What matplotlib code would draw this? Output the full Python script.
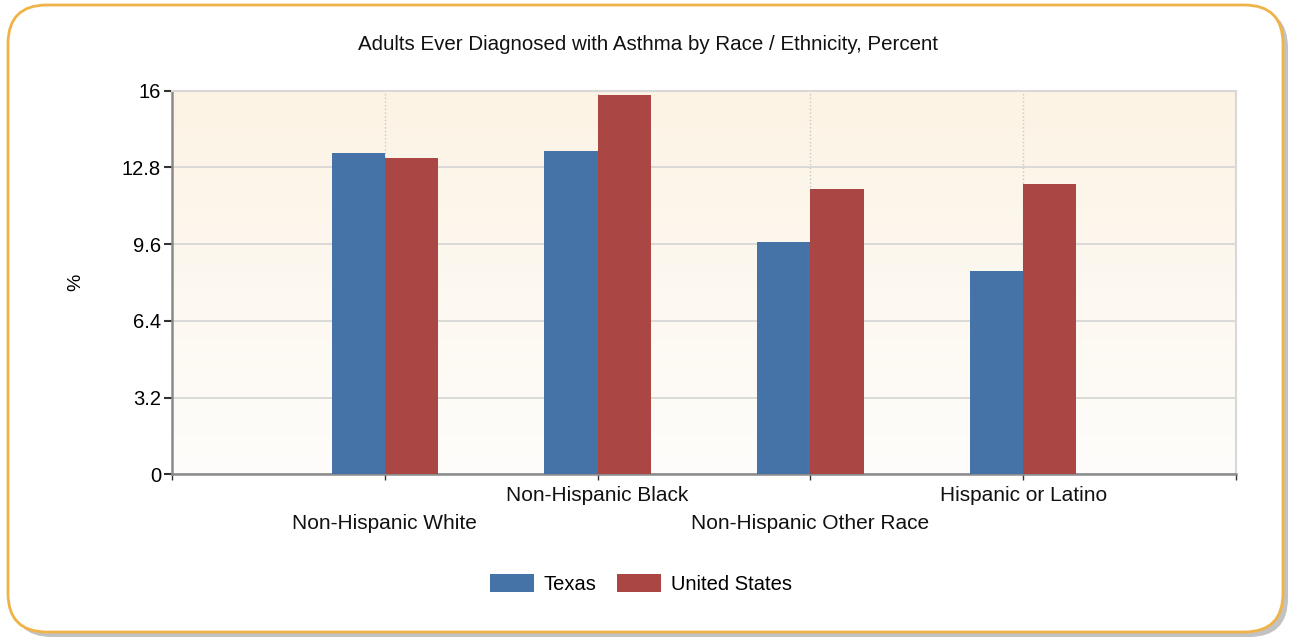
import matplotlib
import numpy as np

matplotlib.use("Agg")
import matplotlib.pyplot as plt
from matplotlib.patches import FancyBboxPatch
from matplotlib.colors import LinearSegmentedColormap

plt.rcParams["font.family"] = ["Liberation Sans", "DejaVu Sans"]

# data
categories = ["Non-Hispanic White", "Non-Hispanic Black",
              "Non-Hispanic Other Race", "Hispanic or Latino"]
texas = [13.4, 13.5, 9.7, 8.5]
united_states = [13.2, 15.8, 11.9, 12.1]
y_ticks = [0, 3.2, 6.4, 9.6, 12.8, 16]

BLUE = "#4572a7"
RED = "#aa4643"
W, H = 1294, 638

fig = plt.figure(figsize=(W / 100, H / 100), dpi=100)

# rounded frame with shadow
shadow = FancyBboxPatch((13 / W, 1 - 637 / H), 1275 / W, 628 / H,
                        boxstyle="round,pad=0,rounding_size=0.03",
                        transform=fig.transFigure, facecolor="#a8a8a8",
                        edgecolor="none", alpha=0.7, zorder=0,
                        mutation_aspect=W / H)
fig.patches.append(shadow)
frame = FancyBboxPatch((8 / W, 1 - 632 / H), 1275 / W, 627 / H,
                       boxstyle="round,pad=0,rounding_size=0.03",
                       transform=fig.transFigure, facecolor="white",
                       edgecolor="#efb347", linewidth=2, zorder=1,
                       mutation_aspect=W / H)
fig.patches.append(frame)

ax = fig.add_axes([172 / W, 1 - 474.3 / H, (1236 - 172) / W, (474.3 - 90.7) / H])
ax.set_zorder(2)
ax.patch.set_alpha(0)

# soft cream gradient behind the plot
cmap = LinearSegmentedColormap.from_list("bg", ["#fefdfb", "#fcf3e4"])
grad = np.linspace(0, 1, 256).reshape(-1, 1)
ax.imshow(grad, extent=[0, 1, 0, 1], transform=ax.transAxes, cmap=cmap,
          origin="lower", aspect="auto", zorder=0)

x = np.arange(1, len(categories) + 1)
bw = 0.25
ax.bar(x - bw / 2, texas, bw, color=BLUE, label="Texas", zorder=3)
ax.bar(x + bw / 2, united_states, bw, color=RED, label="United States", zorder=3)

ax.set_xlim(0, 5)
ax.set_ylim(0, 16)
ax.set_yticks(y_ticks)
ax.set_yticklabels(["0", "3.2", "6.4", "9.6", "12.8", "16"], fontsize=14.5)
ax.yaxis.grid(True, color="#d4d4d4", linewidth=1.2, zorder=1)
for xi in x:
    ax.axvline(xi, color="#c8c8c8", linestyle=":", linewidth=1, zorder=1)

ax.set_xticks(np.arange(0, 6))
ax.set_xticklabels([])
ax.tick_params(axis="x", length=4, width=1, color="#333333")
ax.tick_params(axis="y", length=6, width=1.5, color="#333333", pad=2)

for side in ["top", "right"]:
    ax.spines[side].set_color("#d8d8d8")
    ax.spines[side].set_linewidth(1.5)
for side in ["left", "bottom"]:
    ax.spines[side].set_color("#8a8a8a")
    ax.spines[side].set_linewidth(1.8)

trans = ax.get_xaxis_transform()
for i, (xi, name) in enumerate(zip(x, categories)):
    off = -49 if i % 2 == 0 else -21
    ax.annotate(name, xy=(xi, 0), xycoords=trans, xytext=(0, off),
                textcoords="offset pixels", ha="center", va="center",
                fontsize=15, color="#111111")

ax.set_ylabel("%", fontsize=14)
ax.yaxis.set_label_coords(-(172 - 84) / (1236 - 172), 0.5)

fig.text(648 / W, 1 - 45 / H,
         "Adults Ever Diagnosed with Asthma by Race / Ethnicity, Percent",
         ha="center", va="center", fontsize=14.8, color="#111111")

fig.legend(loc="center", bbox_to_anchor=(641 / W, 1 - 584 / H), ncol=2,
           frameon=False, fontsize=14.5, handlelength=2.2, handleheight=1.0,
           columnspacing=1.0, handletextpad=0.5)

fig.savefig("out.png", dpi=100)
